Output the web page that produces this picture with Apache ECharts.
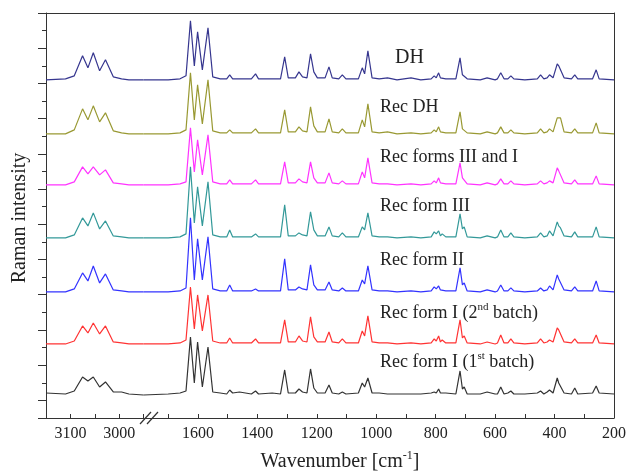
<!DOCTYPE html>
<html>
<head>
<meta charset="utf-8">
<script src="https://cdn.jsdelivr.net/npm/echarts@6/dist/echarts.min.js"></script>
<style>
  html, body { margin: 0; padding: 0; background: #fff; }
  #chart { width: 629px; height: 472px; }
</style>
</head>
<body>
<div id="chart"></div>
<script>
// wavenumber points (cm-1), left part (C-H region) and right part (fingerprint)
const wnLeft = [3150, 3110, 3092, 3075, 3064, 3053, 3040, 3028, 3012, 2995, 2980, 2950];
const wnRight = [
  1783, 1700, 1660, 1640, 1625, 1612, 1601, 1585, 1566, 1550,
  1525, 1503, 1493, 1483, 1460, 1420, 1406, 1396, 1350, 1322,
  1308, 1296, 1272, 1260, 1248, 1233, 1221, 1210, 1198, 1172,
  1159, 1148, 1126, 1114, 1102, 1060, 1047, 1039, 1028, 1014,
  990, 962, 930, 883, 850, 815, 805, 798, 790, 784,
  778, 766, 732, 718, 710, 704, 694, 650, 627, 600,
  592, 581, 570, 557, 547, 537, 500, 458, 447, 436,
  425, 417, 405, 391, 386, 380, 368, 343, 332, 322,
  272, 260, 250, 200
];

const names = ['DH', 'Rec DH', 'Rec forms III and I', 'Rec form III', 'Rec form II', 'Rec form I (2nd batch)', 'Rec form I (1st batch)'];
const colors = ['#36368f', '#999933', '#ff33ff', '#339999', '#3333ff', '#ff3333', '#333333'];
// vertical offset of each trace (a.u.)
const offsets = [338, 284, 233, 180, 126, 74, 23];

// intensities above the offset, left part
const leftDH    = [0, 1, 4, 24, 12, 27, 9, 20, 3, 1, 0, 0];
const leftRecDH = [0, 0, 4, 25, 14, 28, 12, 21, 3, 1, 0, 0];
const leftIII_I = [0, 0, 3, 18, 11, 18, 10, 15, 2, 1, 0, 0];
const leftIII   = [0, 0, 3, 20, 12, 25, 9, 17, 2, 1, 0, 0];
const leftII    = [0, 0, 3, 19, 11, 26, 9, 18, 2, 1, 0, 0];
const leftI2    = [0, 0, 3, 18, 11, 21, 10, 18, 2, 1, 0, 0];
const leftI1    = [2, 1, 4, 18, 14, 18, 8, 13, 3, 3, 1, 0];

// intensities above the offset, right part
const rightDH = [
  0, 0, 1, 4, 59, 14, 48, 10, 52, 3,
  1, 1, 5, 1, 1, 1, 6, 1, 1, 1,
  23, 2, 2, 8, 3, 2, 26, 8, 2, 2,
  13, 2, 1, 5, 1, 1, 12, 6, 29, 2,
  1, 2, 0, 2, 0, 1, 4, 2, 7, 2,
  3, 1, 1, 22, 5, 6, 1, 0, 2, 0,
  1, 7, 1, 1, 4, 1, 0, 1, 5, 1,
  2, 5, 2, 16, 14, 15, 2, 1, 5, 1,
  1, 10, 1, 0
];
const rightRecDH = [
  0, 0, 1, 4, 61, 14, 49, 10, 54, 3,
  1, 1, 4, 1, 1, 1, 5, 1, 1, 1,
  24, 2, 2, 7, 3, 2, 27, 8, 2, 2,
  15, 2, 1, 5, 1, 1, 14, 7, 30, 2,
  1, 2, 0, 1, 0, 1, 4, 2, 7, 2,
  3, 1, 1, 22, 5, 6, 1, 0, 2, 0,
  1, 7, 1, 1, 4, 1, 0, 1, 5, 1,
  2, 5, 2, 16, 15, 16, 2, 1, 5, 1,
  1, 11, 1, 0
];
const rightIII_I = [
  0, 0, 1, 3, 57, 13, 45, 10, 50, 3,
  1, 1, 5, 1, 1, 1, 5, 1, 1, 1,
  23, 2, 2, 6, 3, 2, 23, 7, 2, 2,
  12, 2, 1, 4, 1, 1, 13, 7, 27, 2,
  1, 1, 0, 1, 0, 1, 4, 2, 7, 2,
  3, 1, 1, 22, 7, 8, 1, 0, 2, 0,
  1, 6, 1, 1, 4, 1, 0, 1, 4, 1,
  2, 4, 2, 17, 14, 13, 2, 1, 5, 1,
  1, 9, 1, 0
];
const rightIII = [
  0, 0, 1, 4, 71, 15, 51, 12, 56, 3,
  1, 1, 8, 1, 1, 1, 4, 1, 1, 1,
  33, 2, 2, 5, 3, 2, 26, 8, 2, 2,
  11, 2, 1, 5, 1, 1, 11, 8, 25, 2,
  1, 1, 0, 1, 0, 1, 6, 4, 7, 2,
  4, 1, 1, 24, 9, 11, 1, 0, 2, 0,
  1, 8, 1, 1, 5, 1, 0, 1, 5, 1,
  2, 7, 2, 16, 12, 10, 2, 1, 6, 1,
  1, 11, 1, 0
];
const rightII = [
  0, 0, 1, 4, 74, 12, 53, 12, 55, 3,
  1, 1, 7, 1, 1, 1, 3, 1, 1, 1,
  33, 2, 2, 5, 3, 2, 27, 7, 2, 2,
  10, 2, 1, 4, 1, 1, 12, 8, 26, 2,
  1, 1, 0, 1, 0, 1, 5, 3, 6, 2,
  3, 1, 1, 24, 7, 9, 1, 0, 2, 0,
  1, 7, 1, 1, 4, 1, 0, 1, 4, 1,
  2, 6, 2, 17, 13, 12, 2, 1, 5, 1,
  1, 11, 1, 0
];
const rightI2 = [
  0, 0, 1, 4, 57, 15, 49, 13, 49, 3,
  1, 1, 6, 1, 1, 1, 5, 1, 1, 1,
  24, 2, 2, 8, 3, 2, 27, 7, 2, 2,
  12, 2, 1, 5, 1, 1, 13, 8, 28, 2,
  1, 1, 0, 1, 0, 1, 5, 3, 8, 2,
  4, 1, 1, 24, 6, 8, 1, 0, 2, 0,
  1, 9, 1, 1, 5, 1, 0, 1, 5, 1,
  2, 4, 2, 16, 14, 14, 2, 1, 5, 1,
  1, 9, 1, 0
];
const rightI1 = [
  0, 1, 2, 4, 58, 12, 53, 8, 48, 3,
  2, 1, 5, 2, 3, 1, 4, 1, 2, 1,
  25, 2, 2, 6, 3, 2, 26, 7, 2, 2,
  10, 2, 1, 3, 1, 2, 12, 8, 17, 2,
  2, 1, 1, 1, 1, 2, 3, 2, 6, 2,
  3, 2, 1, 24, 6, 8, 1, 1, 3, 1,
  1, 8, 1, 2, 4, 1, 1, 2, 4, 1,
  3, 5, 2, 17, 12, 12, 2, 1, 7, 1,
  2, 9, 2, 1
];

const leftSets = [leftDH, leftRecDH, leftIII_I, leftIII, leftII, leftI2, leftI1];
const rightSets = [rightDH, rightRecDH, rightIII_I, rightIII, rightII, rightI2, rightI1];

const FONT = '"Liberation Serif", "DejaVu Serif", serif';
const ink = '#222';

let chart = echarts.init(document.getElementById('chart'));

let series = [];
names.forEach((n, k) => {
    series.push({
        name: n, type: 'line', xAxisIndex: 0, yAxisIndex: 0,
        showSymbol: false, silent: true,
        lineStyle: { color: colors[k], width: 1.2 },
        data: wnLeft.map((w, i) => [w, offsets[k] + leftSets[k][i]])
    });
    series.push({
        name: n, type: 'line', xAxisIndex: 1, yAxisIndex: 2,
        showSymbol: false, silent: true,
        lineStyle: { color: colors[k], width: 1.2 },
        data: wnRight.map((w, i) => [w, offsets[k] + rightSets[k][i]])
    });
});

const lineStyle = { color: '#333', width: 1 };
const labelStyle = { color: ink, fontFamily: FONT, fontSize: 16, margin: 8 };

// rich styles: m = normal text, s = superscript
function richFor(size) {
    return {
        m: { fontSize: size, fontFamily: FONT, fill: ink, lineHeight: size + 4, verticalAlign: 'middle' },
        s: { fontSize: Math.round(size * 0.6), fontFamily: FONT, fill: ink, lineHeight: Math.round(size * 0.6), verticalAlign: 'top' }
    };
}

// trace labels
const labelRows = [
    { text: '{m|DH}', x: 395, y: 58, size: 20 },
    { text: '{m|Rec DH}', x: 380, y: 107, size: 18 },
    { text: '{m|Rec forms III and I}', x: 380, y: 157, size: 18 },
    { text: '{m|Rec form III}', x: 380, y: 206, size: 18 },
    { text: '{m|Rec form II}', x: 380, y: 260, size: 18 },
    { text: '{m|Rec form I (2}{s|nd}{m| batch)}', x: 380, y: 313, size: 18 },
    { text: '{m|Rec form I (1}{s|st}{m| batch)}', x: 380, y: 362, size: 18 }
];
let graphics = labelRows.map(r => ({
    type: 'text', x: r.x, y: r.y, silent: true,
    style: {
        text: r.text, fill: ink, fontFamily: FONT, fontSize: r.size,
        verticalAlign: 'middle', rich: richFor(r.size)
    }
}));
// axis names
graphics.push({
    type: 'text', x: 340, y: 462, silent: true,
    style: {
        text: '{m|Wavenumber [cm}{s|-1}{m|]}', fill: ink, fontFamily: FONT, fontSize: 20,
        align: 'center', verticalAlign: 'middle', rich: richFor(20)
    }
});
graphics.push({
    type: 'text', x: 20, y: 218, rotation: Math.PI / 2, silent: true,
    style: { text: 'Raman intensity', fill: ink, fontFamily: FONT, fontSize: 20, align: 'center', verticalAlign: 'middle' }
});
// axis break marks
graphics.push({ type: 'line', silent: true, shape: { x1: 140, y1: 424, x2: 151, y2: 412 }, style: { stroke: '#333', lineWidth: 1.2 } });
graphics.push({ type: 'line', silent: true, shape: { x1: 147, y1: 424, x2: 158, y2: 412 }, style: { stroke: '#333', lineWidth: 1.2 } });

chart.setOption({
    animation: false,
    backgroundColor: '#fff',
    grid: [
        { left: 46, top: 13, width: 97.5, height: 405 },
        { left: 143.5, top: 13, width: 471.5, height: 405 }
    ],
    xAxis: [
        {
            gridIndex: 0, type: 'value', position: 'bottom', inverse: true,
            min: 2950, max: 3150, interval: 50,
            axisLine: { lineStyle: lineStyle },
            axisTick: { inside: true, length: 4, lineStyle: lineStyle },
            axisLabel: Object.assign({}, labelStyle, {
                formatter: v => (v === 3000 || v === 3100) ? String(v) : ''
            }),
            splitLine: { show: false }
        },
        {
            gridIndex: 1, type: 'value', position: 'bottom', inverse: true,
            min: 200, max: 1783, interval: 100,
            axisLine: { lineStyle: lineStyle },
            axisTick: { inside: true, length: 4, lineStyle: lineStyle },
            axisLabel: Object.assign({}, labelStyle, {
                formatter: v => (v % 200 === 0) ? String(v) : ''
            }),
            splitLine: { show: false }
        },
        {
            gridIndex: 0, type: 'value', position: 'top', min: 2950, max: 3150,
            axisLine: { lineStyle: lineStyle }, axisTick: { show: false },
            axisLabel: { show: false }, splitLine: { show: false }
        },
        {
            gridIndex: 1, type: 'value', position: 'top', min: 200, max: 1783,
            axisLine: { lineStyle: lineStyle }, axisTick: { show: false },
            axisLabel: { show: false }, splitLine: { show: false }
        }
    ],
    yAxis: [
        {
            gridIndex: 0, type: 'value', position: 'left',
            min: 0, max: 404.8, interval: 17.6,
            axisLine: { show: true, lineStyle: lineStyle },
            axisTick: { show: true, length: 4, lineStyle: lineStyle },
            axisLabel: { show: false }, splitLine: { show: false }
        },
        {
            // long ticks every second step, counted from the top
            gridIndex: 0, type: 'value', position: 'left', inverse: true,
            min: 0, max: 404.8, interval: 35.2,
            axisLine: { show: false },
            axisTick: { show: true, length: 8, lineStyle: lineStyle },
            axisLabel: { show: false }, splitLine: { show: false }
        },
        {
            gridIndex: 1, type: 'value', position: 'right',
            min: 0, max: 404.8,
            axisLine: { show: true, lineStyle: lineStyle },
            axisTick: { show: false },
            axisLabel: { show: false }, splitLine: { show: false }
        }
    ],
    graphic: graphics,
    series: series
});
</script>
</body>
</html>
